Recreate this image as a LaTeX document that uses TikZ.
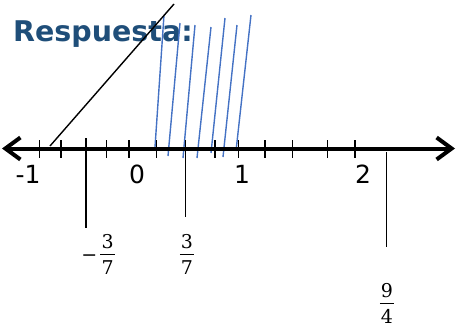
\documentclass[tikz,border=0pt]{standalone}
\usepackage{fontspec}
\newfontfamily\numfont{DejaVu Sans}
\newfontfamily\fracfont{DejaVu Serif}
\usetikzlibrary{arrows.meta}
\definecolor{titleblue}{RGB}{31,78,121}
\definecolor{hatchblue}{RGB}{68,114,196}
\newcommand{\pointfrac}[2]{\begin{tabular}{@{\kern1pt}c@{\kern1pt}}#1\\[-1pt]\hline\rule{0pt}{20pt}#2\end{tabular}}

\begin{document}
\begin{tikzpicture}[x=1pt,y=-1pt,
		tickmark/.style={line width=1.3pt},
		numlabel/.style={anchor=base,inner sep=0pt,font=\numfont\fontsize{25}{28}\selectfont},
		fraclabel/.style={inner sep=0pt,font=\fracfont\fontsize{19}{22}\selectfont}]
		
		\useasboundingbox (0,0) rectangle (460,327);
		
		\node[anchor=base west,inner sep=0pt,text=titleblue,font=\numfont\bfseries\fontsize{28.5}{31}\selectfont] (title) at (13,41.5) {Respuesta:};
		
		% Hatching over the interval
		\foreach \xa/\ya/\xb/\yb in {155/147/164/15, 168/156/180/23, 183/158/195/25, 197/158/211/27, 211/153/225/18, 223/157/237/25, 236/151/251/15}
			\draw[hatchblue,line width=1.4pt] (\xa,\ya) -- (\xb,\yb);
		
		% Number line
		\coordinate (axisL) at (2,148.5);
		\coordinate (axisR) at (455,148.5);
		\draw[line width=4pt,{Straight Barb[length=15pt,width=22pt]}-{Straight Barb[length=15pt,width=22pt]}] (axisL) -- (axisR);
		
		% Ticks
		\foreach \x in {39.3,61,106.7,129,156.7,215,238.3,265,292.7,327.3,355}
			\draw[tickmark] (\x,140) -- (\x,158);
		
		\node[numlabel] (nm1) at (28,183) {-1};
		\node[numlabel] (n0) at (137,183) {0};
		\node[numlabel] (n1) at (242,183) {1};
		\node[numlabel] (n2) at (363,183) {2};
		
		% Marked points
		\node[fraclabel] (fa) at (98,257) {\textminus\,\pointfrac{3}{7}};
		\node[fraclabel] (fb) at (187,257) {\pointfrac{3}{7}};
		\node[fraclabel] (fc) at (387,306) {\pointfrac{9}{4}};
		
		\coordinate (pa) at (86,138);
		\coordinate (pb) at (185.5,140);
		\coordinate (pc) at (386.7,152);
		\draw[tickmark] (pa) -- (86,228);
		\draw[tickmark] (pb) -- (185.5,217);
		\draw[tickmark] (pc) -- (386.7,247);
		
		% Crossing line
		\coordinate (sa) at (50,146);
		\coordinate (sb) at (174,4);
		\draw[line width=1.4pt] (sa) -- (sb);
		
	\end{tikzpicture}
\end{document}
